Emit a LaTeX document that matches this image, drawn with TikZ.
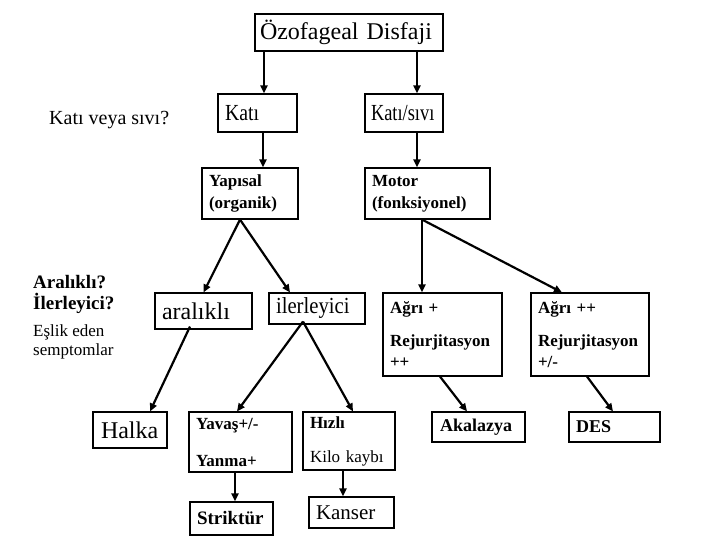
\documentclass[tikz,border=0pt]{standalone}
\usepackage{fontspec}
\setmainfont{Liberation Serif}
\usetikzlibrary{arrows.meta}
\tikzset{
  box/.style={draw, line width=1.1pt, inner xsep=7pt, inner ysep=0pt, align=left},
  arr/.style={line width=2.2pt, -{Triangle[length=8pt,width=7pt]}},
  lab/.style={anchor=base west, inner sep=0pt, align=left},
  fbig/.style={font=\fontsize{24}{28}\selectfont},
  fsm/.style={font=\fontsize{17}{22}\selectfont\bfseries}
}
\begin{document}
\begin{tikzpicture}[x=1pt,y=-1pt]
\useasboundingbox[fill=white] (0,0) rectangle (720,540);

% row 1
\node[box,fbig,text width=178pt,minimum height=37pt,inner xsep=5pt] (top) at (349,32.5) {Özofageal Disfaji};
% row 2
\node[lab,font=\fontsize{20}{24}\selectfont] (q1) at (49,125) {Katı veya sıvı?};
\node[box,font=\fontsize{23}{27}\selectfont,text width=65pt,minimum height=38pt] (kati) at (257.5,113) {\scalebox{0.86}[1]{Katı}};
\node[box,font=\fontsize{23}{27}\selectfont,text width=66pt,minimum height=38pt,inner xsep=6pt] (katisivi) at (404,113) {\scalebox{0.8}[1]{Katı/sıvı}};
% row 3
\node[box,fsm,text width=82pt,minimum height=51pt] (yap) at (250,193.5) {Yapısal\\(organik)};
\node[box,fsm,text width=111pt,minimum height=51pt] (mot) at (427.5,193.5) {Motor\\(fonksiyonel)};
% row 4
\node[lab,font=\fontsize{19}{21}\selectfont\bfseries] (q2) at (33,309) {Aralıklı?\\İlerleyici?};
\node[lab,font=\fontsize{17}{19}\selectfont] (q3) at (33,355) {Eşlik eden\\semptomlar};
\node[box,font=\fontsize{24}{28}\selectfont,text width=83pt,minimum height=36pt] (ara) at (203.5,311) {aralıklı};
\node[box,font=\fontsize{23}{27}\selectfont,text width=82pt,minimum height=31pt] (ile) at (317,308.5) {\scalebox{0.9}[1]{ilerleyici}};
\node[box,font=\fontsize{17}{21}\selectfont\bfseries,text width=105pt,minimum height=83pt] (agri1) at (442.5,334.5) {Ağrı +\\[12pt]Rejurjitasyon\\++};
\node[box,font=\fontsize{17}{21}\selectfont\bfseries,text width=104pt,minimum height=83pt] (agri2) at (590,334.5) {Ağrı ++\\[12pt]Rejurjitasyon\\+/-};
% row 5
\node[box,font=\fontsize{24}{28}\selectfont,text width=58pt,minimum height=36pt,inner xsep=8pt] (halka) at (130,430) {Halka};
\node[box,fsm,text width=89pt,minimum height=60pt] (yavas) at (240.5,442) {Yavaş+/-\\[15pt]Yanma+};
\node[box,font=\fontsize{17}{22}\selectfont,text width=78pt,minimum height=58pt] (hizli) at (349,441) {\textbf{Hızlı}\\[12pt]Kilo kaybı};
\node[box,font=\fontsize{18}{21}\selectfont\bfseries,text width=77pt,minimum height=30pt,inner xsep=8pt] (akal) at (478.5,427) {Akalazya};
\node[box,font=\fontsize{18}{21}\selectfont\bfseries,text width=77pt,minimum height=30pt] (des) at (614.5,427) {DES};
% row 6
\node[box,font=\fontsize{19}{22}\selectfont\bfseries,text width=69pt,minimum height=33pt] (strik) at (231.5,518.5) {Striktür};
\node[box,font=\fontsize{21}{24}\selectfont,text width=71pt,minimum height=31pt] (kanser) at (351.5,512.5) {Kanser};

% arrows
\draw[arr] ([xshift=-85pt]top.south) -- ([xshift=6.5pt]kati.north);
\draw[arr] ([xshift=68pt]top.south) -- ([xshift=13pt]katisivi.north);
\draw[arr] ([xshift=5.5pt]kati.south) -- ([xshift=13pt]yap.north);
\draw[arr] ([xshift=13pt]katisivi.south) -- ([xshift=-10.5pt]mot.north);
\draw[arr] ([xshift=-10pt]yap.south) -- (ara.north);
\draw[arr] ([xshift=-10pt]yap.south) -- ([xshift=-27pt]ile.north);
\draw[arr] ([xshift=-5.5pt]mot.south) -- ([xshift=-20.5pt]agri1.north);
\draw[arr] ([xshift=-5.5pt]mot.south) -- ([xshift=-28pt]agri2.north);
\draw[arr] ([xshift=-13.5pt,yshift=3pt]ara.south) -- ([xshift=20pt]halka.north);
\draw[arr] ([xshift=-14pt,yshift=3pt]ile.south) -- ([xshift=-3.5pt]yavas.north);
\draw[arr] ([xshift=-14pt,yshift=3pt]ile.south) -- ([xshift=4pt]hizli.north);
\draw[arr] ([xshift=-5.5pt]yavas.south) -- ([xshift=3.5pt]strik.north);
\draw[arr] ([xshift=-6pt]hizli.south) -- ([xshift=-8.5pt]kanser.north);
\draw[arr] ([xshift=-2.5pt]agri1.south) -- ([xshift=-11.5pt]akal.north);
\draw[arr] ([xshift=-3pt]agri2.south) -- ([xshift=-1.5pt]des.north);
\end{tikzpicture}
\end{document}
